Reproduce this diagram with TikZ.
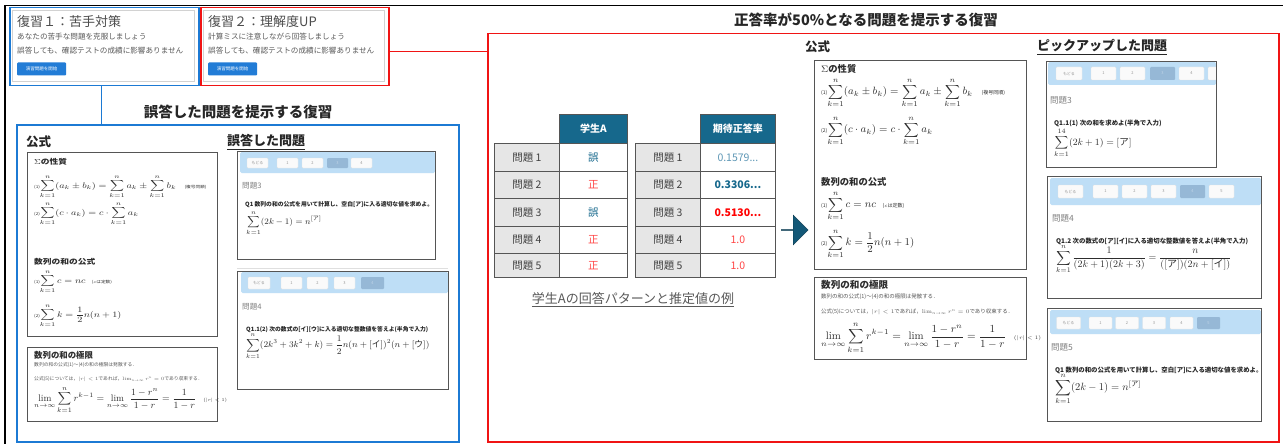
\RequirePackage{fix-cm}
\documentclass[tikz,border=0pt]{standalone}
\usepackage{amsmath}
\usepackage{fontspec}
\newfontfamily\jp{Noto Sans CJK JP}
\usetikzlibrary{shapes.arrows}
\definecolor{bblue}{RGB}{28,122,212}
\definecolor{rred}{RGB}{240,20,20}
\definecolor{hdr}{RGB}{190,222,246}
\definecolor{selb}{RGB}{150,184,214}
\definecolor{tealh}{RGB}{22,104,140}
\definecolor{btnblue}{RGB}{34,124,214}
\definecolor{txt}{RGB}{45,45,45}
\definecolor{cellgray}{RGB}{230,230,230}
\definecolor{val1}{RGB}{95,152,182}
\definecolor{redv}{RGB}{255,70,70}
\definecolor{framec}{RGB}{85,85,85}

\newcommand\lbl[1]{{\jp\fontsize{4.5}{5}\selectfont #1}}

\tikzset{
  fs/.style={font=\jp\fontsize{#1}{#1}\selectfont},
  fsb/.style={font=\jp\bfseries\fontsize{#1}{#1}\selectfont},
  tx/.style={anchor=west, inner sep=0pt, text=txt},
  fhead/.style={anchor=west, inner sep=0pt, text=txt, font=\jp\bfseries\fontsize{8.4}{9}\selectfont},
  fml/.style={anchor=west, inner sep=0pt, text=txt, font=\fontsize{9.5}{10}\selectfont},
  fmlbig/.style={anchor=west, inner sep=0pt, text=txt, font=\fontsize{9.5}{10}\selectfont},
  fnote/.style={anchor=west, inner sep=0pt, text=txt!80, font=\jp\fontsize{4.8}{5}\selectfont},
  fbox/.style={draw=framec, line width=1pt, anchor=north west, inner sep=0pt},
  ssbox/.style={draw=framec, line width=1pt, anchor=north west, inner sep=0pt},
  btn/.style={draw=gray!20, fill=gray!4, rounded corners=1pt, inner sep=0pt, text=gray!80, font=\jp\fontsize{4}{4}\selectfont},
  btnsel/.style={fill=selb, rounded corners=1pt, inner sep=0pt, text=selb!60!white, font=\jp\fontsize{4}{4}\selectfont},
  pnum/.style={anchor=west, inner sep=0pt, text=gray, font=\jp\fontsize{7.6}{8}\selectfont},
  pnumR/.style={anchor=west, inner sep=0pt, text=gray, font=\jp\fontsize{8.5}{9}\selectfont},
  qtext/.style={anchor=west, inner sep=0pt, text=black!85, font=\jp\bfseries\fontsize{5.8}{6}\selectfont},
  qtextR/.style={anchor=west, inner sep=0pt, text=black!85, font=\jp\bfseries\fontsize{6.4}{7}\selectfont},
  qfml/.style={anchor=west, inner sep=0pt, text=txt, font=\fontsize{8.5}{9}\selectfont},
  cell/.style={draw=framec, line width=0.8pt, anchor=north west, inner sep=0pt, text=black!75, font=\jp\fontsize{10.5}{10.5}\selectfont},
  panel/.style={line width=1.5pt, anchor=north west, inner sep=0pt, minimum height=78},
}

% #1 prefix, #2 x, #3-#8 y positions, #9 heading scale / formula transform
\newcommand\SigBlock[9]{%
  \node[fhead, #9] (#1h1) at (#2,#3) {$\Sigma$の性質};
  \node[fml, #9] (#1f1) at (#2,#4) {\lbl{(1)}$\displaystyle\sum_{k=1}^{n}(a_k\pm b_k)=\sum_{k=1}^{n}a_k\pm\sum_{k=1}^{n}b_k$\hspace{8pt}\lbl{(複号同順)}};
  \node[fml, #9] (#1f2) at (#2,#5) {\lbl{(2)}$\displaystyle\sum_{k=1}^{n}(c\cdot a_k)=c\cdot\sum_{k=1}^{n}a_k$};
  \node[fhead, #9] (#1h2) at (#2,#6) {数列の和の公式};
  \node[fml, #9] (#1f3) at (#2,#7) {\lbl{(1)}$\displaystyle\sum_{k=1}^{n}c=nc$\hspace{6pt}\lbl{($c$は定数)}};
  \node[fml, #9] (#1f4) at (#2,#8) {\lbl{(2)}$\displaystyle\sum_{k=1}^{n}k=\frac{1}{2}n(n+1)$};
}

\newcommand\LimBlock[7]{%
  \node[fhead, scale=#7] (#1h) at (#2,#3) {数列の和の極限};
  \node[fnote, scale=#7] (#1n1) at (#2,#4) {数列の和の公式(1)～(4)の和の極限は発散する．};
  \node[fnote, scale=#7] (#1n2) at (#2,#5) {公式(5)については，$|r|<1$であれば，$\lim_{n\to\infty}r^n=0$であり収束する．};
  \node[fmlbig, scale=#7] (#1f) at (#2,#6) {$\displaystyle\lim_{n\to\infty}\sum_{k=1}^{n}r^{k-1}=\lim_{n\to\infty}\frac{1-r^n}{1-r}=\frac{1}{1-r}$\hspace{7pt}\lbl{$(|r|<1)$}};
}

\begin{document}
\begin{tikzpicture}[x=1pt,y=-1pt]
\useasboundingbox[fill=white] (0,0) rectangle (1283,444);
% outer frame
\draw[black, line width=1.6pt] (5,444) -- (5,5.5) -- (1283,5.5);

% top panels
\node[panel, draw=bblue, minimum width=189] (p1) at (9,7) {};
\draw[gray!35, line width=1pt] (12.5,10.5) rectangle (194.5,81.5);
\node[tx, fs=13, text=black!70] (p1t) at (17,22) {復習１：苦手対策};
\node[tx, fs=7.6, text=black!65] (p1a) at (17,37) {あなたの苦手な問題を克服しましょう};
\node[tx, fs=7.6, text=black!65] (p1b) at (17,51) {誤答しても、確認テストの成績に影響ありません};
\node[anchor=west, fill=btnblue, rounded corners=1pt, minimum width=49, minimum height=13, inner sep=0pt, fs=4.5, text=white] (p1btn) at (17,69) {演習問題を開始};

\node[panel, draw=rred, minimum width=188] (p2) at (200,7) {};
\draw[gray!35, line width=1pt] (203.5,10.5) rectangle (384.5,81.5);
\node[tx, fs=13, text=black!70] (p2t) at (208,22) {復習２：理解度UP};
\node[tx, fs=7.6, text=black!65] (p2a) at (208,37) {計算ミスに注意しながら回答しましょう};
\node[tx, fs=7.6, text=black!65] (p2b) at (208,51) {誤答しても、確認テストの成績に影響ありません};
\node[anchor=west, fill=btnblue, rounded corners=1pt, minimum width=49, minimum height=13, inner sep=0pt, fs=4.5, text=white] (p2btn) at (208,69) {演習問題を開始};

% big boxes
\node[draw=bblue, line width=1.5pt, anchor=north west, minimum width=442, minimum height=317, inner sep=0pt] (bigblue) at (16,124) {};
\node[draw=rred, line width=1.5pt, anchor=north west, minimum width=791, minimum height=408, inner sep=0pt] (bigred) at (487,33) {};

% connectors
\coordinate (bc) at ([xshift=-3pt]p1.south);
\draw[bblue, line width=1.5pt] (bc) -- (bc |- bigblue.north);
\coordinate (rc) at ([yshift=-5pt]p2.east);
\draw[rred, line width=1.5pt] (rc) -- (rc -| bigred.west);

% titles
\node[fsb=14.5, text=black!85] (tblue) at (238,112) {誤答した問題を提示する復習};
\node[fsb=14.5, text=black!85] (tred) at (866,20) {正答率が50\%となる問題を提示する復習};

% ---------- left (blue) contents ----------
\node[tx, fsb=12.5, text=black!85] (lk) at (26,142) {公式};
\node[fbox, minimum width=190, minimum height=184] (fb1) at (27,152) {};
\SigBlock{L}{34}{162}{187}{214}{262}{282}{316}{xscale=1.04,yscale=0.86}
\node[fbox, minimum width=190, minimum height=74] (fb2) at (27,347) {};
\LimBlock{LL}{34}{355}{365}{379}{400}{1}

\node[tx, fsb=13, text=black!85] (lq) at (227,142) {\underline{誤答した問題}};

% screenshot 1
\fill[hdr, rounded corners=1.5pt] (240,152) rectangle (435,173);
\node[btn, minimum width=21, minimum height=10] (s1b0) at (257.5,163) {もどる};
\node[btn, minimum width=21, minimum height=10] (s1b1) at (287.5,163) {1};
\node[btn, minimum width=21, minimum height=10] (s1b2) at (312.5,163) {2};
\node[btnsel, minimum width=21, minimum height=10] (s1b3) at (337.5,163) {3};
\node[btn, minimum width=21, minimum height=10] (s1b4) at (361.5,163) {4};
\node[pnum] (s1n) at (242,186) {問題3};
\node[qtext] (s1q) at (245,205) {Q1 数列の和の公式を用いて計算し、空白[ア]に入る適切な値を求めよ。};
\node[qfml] (s1f) at (246,223) {$\displaystyle\sum_{k=1}^{n}(2k-1)=n^{[\text{\jp ア}]}$};
\node[ssbox, minimum width=198, minimum height=108] (ss1) at (237,151) {};
\draw[gray!25] (237,268) -- (448,268);

% screenshot 2
\fill[hdr, rounded corners=1.5pt] (241,272) rectangle (448,293);
\node[btn, minimum width=22, minimum height=12] (s2b0) at (259,283) {もどる};
\node[btn, minimum width=21, minimum height=12] (s2b1) at (291.5,283) {1};
\node[btn, minimum width=21, minimum height=12] (s2b2) at (317.5,283) {2};
\node[btn, minimum width=21, minimum height=12] (s2b3) at (344.5,283) {3};
\node[btnsel, minimum width=23, minimum height=12] (s2b4) at (372.5,283) {4};
\node[pnum] (s2n) at (242,307) {問題4};
\node[qtext] (s2q) at (246,330) {Q1.1(2) 次の数式の[イ][ウ]に入る適切な整数値を答えよ(半角で入力)};
\node[qfml, font=\fontsize{8.8}{9}\selectfont] (s2f) at (246,346) {$\displaystyle\sum_{k=1}^{n}(2k^3+3k^2+k)=\frac{1}{2}n(n+[\text{\jp イ}])^2(n+[\text{\jp ウ}])$};
\node[ssbox, minimum width=211, minimum height=118] (ss2) at (237,271) {};

% ---------- right (red) contents ----------
% table 1
\node[cell, fill=tealh, text=white, fsb=10, minimum width=68, minimum height=29] (t1h) at (559,114) {学生A};
\foreach \i/\y/\h/\v/\c in {1/143/28/誤/tealh, 2/171/27/正/redv, 3/198/28/誤/tealh, 4/226/27/正/redv, 5/253/24/正/redv}{
  \node[cell, fill=cellgray, minimum width=65, minimum height=\h] (t1l\i) at (494,\y) {問題 \i};
  \node[cell, fill=white, text=\c, minimum width=68, minimum height=\h] (t1v\i) at (559,\y) {\v};
}
% table 2
\node[cell, fill=tealh, text=white, fsb=10, minimum width=75, minimum height=29] (t2h) at (700,114) {期待正答率};
\foreach \i/\y/\h in {1/143/28, 2/171/27, 3/198/28, 4/226/27, 5/253/24}{
  \node[cell, fill=cellgray, minimum width=65, minimum height=\h] (t2l\i) at (635,\y) {問題 \i};
}
\node[cell, fill=white, text=val1, minimum width=75, minimum height=28] (t2v1) at (700,143) {0.1579...};
\node[cell, fill=white, text=tealh, fsb=10.5, minimum width=75, minimum height=27] (t2v2) at (700,171) {0.3306...};
\node[cell, fill=white, text=red, fsb=10.5, minimum width=75, minimum height=28] (t2v3) at (700,198) {0.5130...};
\node[cell, fill=white, text=redv, minimum width=75, minimum height=27] (t2v4) at (700,226) {1.0};
\node[cell, fill=white, text=redv, minimum width=75, minimum height=24] (t2v5) at (700,253) {1.0};
\node[fs=13, text=black!65] (cap) at (633,300) {\underline{学生Aの回答パターンと推定値の例}};

% arrow
\node[single arrow, fill=tealh!85!black, draw=tealh!55!black, minimum height=27, minimum width=30, single arrow head extend=7pt, single arrow tip angle=90, inner sep=0pt, anchor=west] (arr) at (781,230) {};

% formulas right
\node[tx, fsb=12.5, text=black!85] (rk) at (805,47) {公式};
\node[fbox, minimum width=212, minimum height=209] (fb3) at (814,60) {};
\SigBlock{R}{821}{69}{93}{131}{182}{206}{244}{scale=1.11}
\node[fbox, minimum width=212, minimum height=82] (fb4) at (814,277) {};
\LimBlock{RL}{821}{285}{297}{312}{338}{1.14}

\node[tx, fsb=13, text=black!85] (rq) at (1037,47) {\underline{ピックアップした問題}};

% screenshot A
\begin{scope}
\clip (1046,61) rectangle (1216,167);
\fill[hdr, rounded corners=1.5pt] (1048,62) rectangle (1216,85);
\node[btn, minimum width=26, minimum height=13] (sab0) at (1069,73.5) {もどる};
\node[btn, minimum width=25, minimum height=13] (sab1) at (1103.5,73.5) {1};
\node[btn, minimum width=25, minimum height=13] (sab2) at (1132.5,73.5) {2};
\node[btnsel, minimum width=25, minimum height=13] (sab3) at (1162.5,73.5) {3};
\node[btn, minimum width=25, minimum height=13] (sab4) at (1191.5,73.5) {4};
\node[btn, minimum width=25, minimum height=13] (sab5) at (1220.5,73.5) {5};
\end{scope}
\node[pnumR] (san) at (1050,100) {問題3};
\node[qtextR] (saq) at (1054,123) {Q1.1(1) 次の和を求めよ(半角で入力)};
\node[qfml, font=\fontsize{9.5}{10}\selectfont] (saf) at (1054,143) {$\displaystyle\sum_{k=1}^{14}(2k+1)=[\text{\jp ア}]$};
\node[ssbox, minimum width=170, minimum height=106] (ssA) at (1046,61) {};

% screenshot B
\fill[hdr, rounded corners=1.5pt] (1050,178) rectangle (1261,205);
\node[btn, minimum width=25, minimum height=13] (sbb0) at (1070.5,191.5) {もどる};
\node[btn, minimum width=25, minimum height=13] (sbb1) at (1105.5,191.5) {1};
\node[btn, minimum width=25, minimum height=13] (sbb2) at (1134.5,191.5) {2};
\node[btn, minimum width=25, minimum height=13] (sbb3) at (1163.5,191.5) {3};
\node[btnsel, minimum width=25, minimum height=13] (sbb4) at (1192.5,191.5) {4};
\node[btn, minimum width=25, minimum height=13] (sbb5) at (1221.5,191.5) {5};
\node[pnumR] (sbn) at (1052,218) {問題4};
\node[qtextR] (sbq) at (1056,241) {Q1.2 次の数式の[ア][イ]に入る適切な整数値を答えよ(半角で入力)};
\node[qfml, font=\fontsize{10}{11}\selectfont] (sbf) at (1056,259) {$\displaystyle\sum_{k=1}^{n}\frac{1}{(2k+1)(2k+3)}=\frac{n}{([\text{\jp ア}])(2n+[\text{\jp イ}])}$};
\node[ssbox, minimum width=214, minimum height=122] (ssB) at (1047,176) {};

% screenshot C
\fill[hdr, rounded corners=1.5pt] (1050,310) rectangle (1261,334);
\node[btn, minimum width=24, minimum height=12] (scb0) at (1068.5,323) {もどる};
\node[btn, minimum width=23, minimum height=12] (scb1) at (1100.5,323) {1};
\node[btn, minimum width=23, minimum height=12] (scb2) at (1127,323) {2};
\node[btn, minimum width=23, minimum height=12] (scb3) at (1154,323) {3};
\node[btn, minimum width=23, minimum height=12] (scb4) at (1181.5,323) {4};
\node[btnsel, minimum width=23, minimum height=12] (scb5) at (1208.5,323) {5};
\node[pnumR] (scn) at (1051,347) {問題5};
\node[qtextR] (scq) at (1055,370) {Q1 数列の和の公式を用いて計算し、空白[ア]に入る適切な値を求めよ。};
\node[qfml, font=\fontsize{10.5}{11}\selectfont] (scf) at (1055,389) {$\displaystyle\sum_{k=1}^{n}(2k-1)=n^{[\text{\jp ア}]}$};
\node[ssbox, minimum width=214, minimum height=113] (ssC) at (1047,308) {};
\end{tikzpicture}
\end{document}
